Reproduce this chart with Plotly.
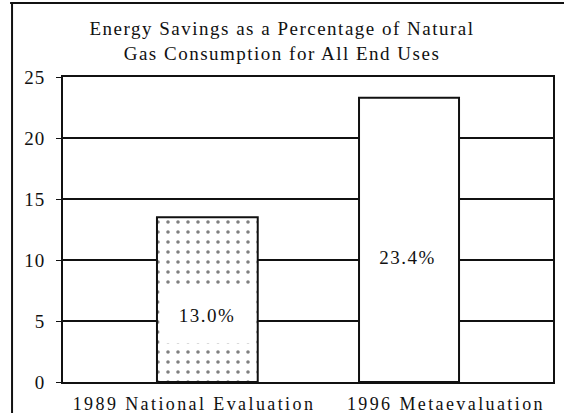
import plotly.graph_objects as go

# ---- data ----
categories = ["1989 National Evaluation", "1996 Metaevaluation"]
savings_pct = [13.5, 23.3]
value_labels = ["13.0%", "23.4%"]
label_y = [5.5, 10.2]
y_ticks = [0, 5, 10, 15, 20, 25]
title_lines = ["Energy Savings as a Percentage of Natural",
               "Gas Consumption for All End Uses"]

FONT = "Liberation Serif, Times New Roman, serif"
INK = "#111111"

fig = go.Figure(go.Bar(
    x=categories,
    y=savings_pct,
    width=[0.40, 0.397],
    offset=[-0.147, -0.345],
    marker=dict(
        color="white",
        line=dict(color=INK, width=2),
        pattern=dict(shape=[".", ""], fgcolor="#000000", bgcolor="white",
                     size=10, solidity=0.1, fillmode="overlay"),
    ),
    hoverinfo="skip",
))

# value labels on the bars
shifts = [13, -38]
for i, cat in enumerate(categories):
    fig.add_annotation(
        x=cat, y=label_y[i], text=value_labels[i], showarrow=False,
        xshift=shifts[i], font=dict(family=FONT, size=19, color=INK),
        bgcolor="white" if i == 0 else "rgba(0,0,0,0)",
        width=92 if i == 0 else None, height=54 if i == 0 else None,
    )

# outer frame of the scanned figure (left and top edges)
fig.add_shape(type="line", xref="paper", yref="paper",
              x0=-0.104, x1=-0.104, y0=-0.2, y1=1.243,
              line=dict(color=INK, width=2))
fig.add_shape(type="line", xref="paper", yref="paper",
              x0=-0.108, x1=1.05, y0=1.243, y1=1.243,
              line=dict(color=INK, width=2))

fig.update_layout(
    width=564, height=413,
    margin=dict(l=63, r=11, t=77, b=31, autoexpand=False),
    paper_bgcolor="white", plot_bgcolor="white",
    showlegend=False,
    font=dict(family=FONT, size=18, color=INK),
    title=dict(text="<br>".join(title_lines), x=0.5, xanchor="center",
               y=1 - 35 / 413, yanchor="top",
               font=dict(family=FONT, size=19, color=INK)),
    xaxis=dict(
        range=[-0.52, 1.425], showgrid=False, zeroline=False,
        showline=True, mirror=True, linecolor=INK, linewidth=2,
        ticks="", ticklabelstandoff=4, automargin=False,
        tickfont=dict(family=FONT, size=18, color=INK),
    ),
    yaxis=dict(
        range=[0, 25], tickvals=y_ticks, showgrid=True, gridcolor=INK,
        gridwidth=1.6, zeroline=False, showline=True, mirror=True,
        linecolor=INK, linewidth=2, ticks="outside", ticklen=5,
        tickcolor=INK, ticklabelstandoff=7, automargin=False,
        tickfont=dict(family=FONT, size=19, color=INK),
    ),
)

post = """
document.body.style.margin = '0';
var s = document.createElement('style');
s.textContent = 'body{margin:0;} .main-svg .gtitle{letter-spacing:1.5px;} .main-svg .xtick text{letter-spacing:2.4px;} .main-svg .annotation-text{letter-spacing:1.5px;} .main-svg .ytick text{letter-spacing:1px;}';
document.head.appendChild(s);
"""

fig.write_html("out.html", post_script=post, config={"displayModeBar": False})
